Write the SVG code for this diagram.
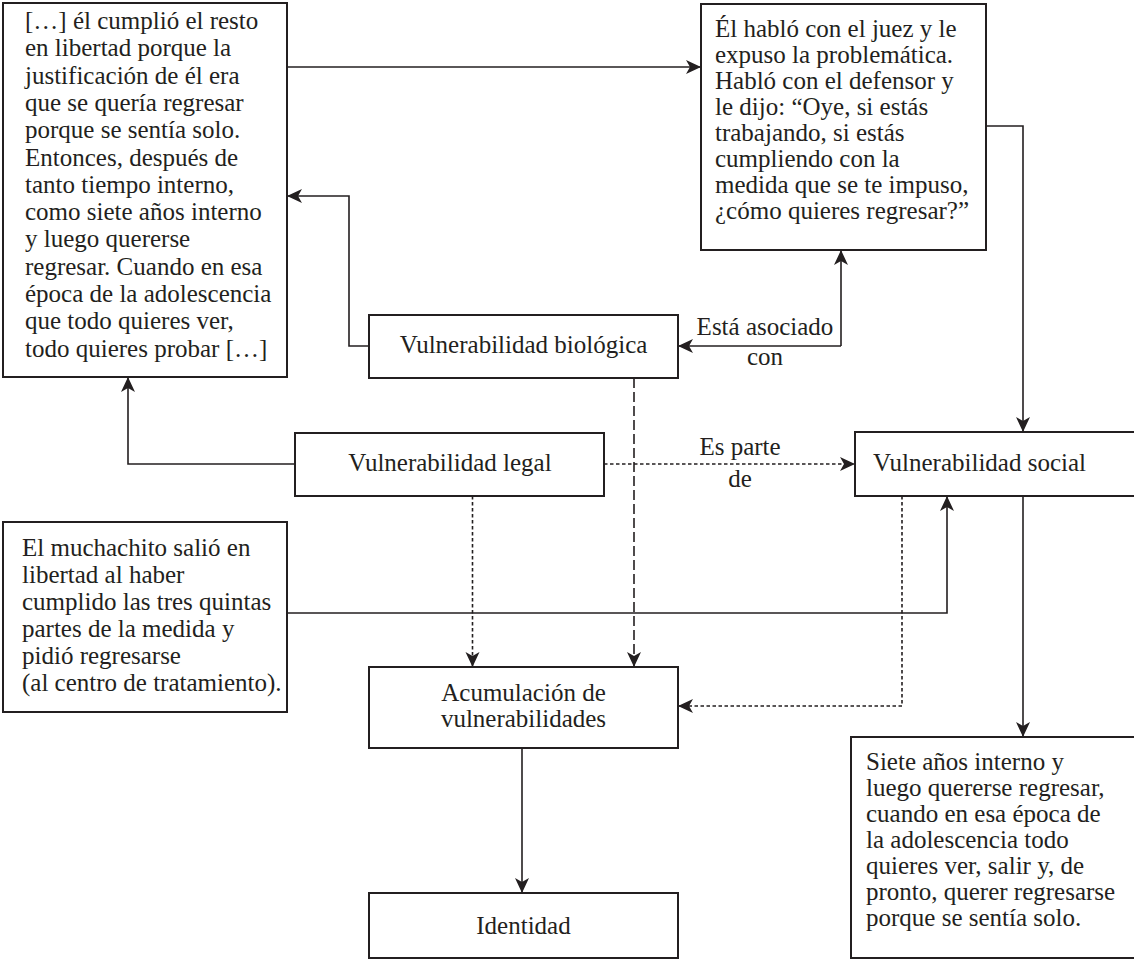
<svg xmlns="http://www.w3.org/2000/svg" width="1134" height="960" viewBox="0 0 1134 960">
  <style>
    .box { fill: #ffffff; stroke: #231f20; stroke-width: 2; }
    .txt { font-family: "Liberation Serif", "Times New Roman", serif; font-size: 25px; fill: #231f20; }
    .mid { text-anchor: middle; }
    .link { fill: none; stroke: #231f20; stroke-width: 1.6; }
    .dot { stroke-dasharray: 3.5 2.5; }
    .dash { stroke-dasharray: 10 4; }
  </style>
  <defs>
    <marker id="arrow" markerUnits="userSpaceOnUse" markerWidth="16" markerHeight="16" refX="15" refY="7" orient="auto">
      <path d="M0,0 L15,7 L0,14 L4,7 z" fill="#231f20"/>
    </marker>
  </defs>

  <rect width="1134" height="960" fill="#ffffff"/>

  <!-- connectors -->
  <g id="connectors">
    <path class="link" d="M287,67 H701" marker-end="url(#arrow)"/>
    <path class="link" d="M369,346 H349 V196 H287" marker-end="url(#arrow)"/>
    <path class="link" d="M841,346 V250" marker-end="url(#arrow)"/>
    <path class="link" d="M841,346 H678" marker-end="url(#arrow)"/>
    <path class="link" d="M986,126 H1023 V432" marker-end="url(#arrow)"/>
    <path class="link" d="M295,464 H128 V377" marker-end="url(#arrow)"/>
    <path class="link dot" d="M604,464 H855" marker-end="url(#arrow)"/>
    <path class="link dot" d="M472.5,496 V667" marker-end="url(#arrow)"/>
    <path class="link dash" d="M634,378 V667" marker-end="url(#arrow)"/>
    <path class="link" d="M287,613 H947 V496" marker-end="url(#arrow)"/>
    <path class="link dot" d="M902,496 V706 H678" marker-end="url(#arrow)"/>
    <path class="link" d="M1023,496 V737" marker-end="url(#arrow)"/>
    <path class="link" d="M522,748 V893" marker-end="url(#arrow)"/>
    <text class="txt mid" x="765" y="335">Está asociado</text>
    <text class="txt mid" x="765" y="365">con</text>
    <text class="txt mid" x="740" y="455">Es parte</text>
    <text class="txt mid" x="740" y="487">de</text>
  </g>

  <!-- quote: remainder served in freedom -->
  <g id="quote-libertad">
    <rect class="box" x="3" y="3" width="284" height="374"/>
    <text class="txt" x="25" y="29">
      <tspan x="25" dy="0">[…] él cumplió el resto</tspan>
      <tspan x="25" dy="27.3">en libertad porque la</tspan>
      <tspan x="25" dy="27.3">justificación de él era</tspan>
      <tspan x="25" dy="27.3">que se quería regresar</tspan>
      <tspan x="25" dy="27.3">porque se sentía solo.</tspan>
      <tspan x="25" dy="27.3">Entonces, después de</tspan>
      <tspan x="25" dy="27.3">tanto tiempo interno,</tspan>
      <tspan x="25" dy="27.3">como siete años interno</tspan>
      <tspan x="25" dy="27.3">y luego quererse</tspan>
      <tspan x="25" dy="27.3">regresar. Cuando en esa</tspan>
      <tspan x="25" dy="27.3">época de la adolescencia</tspan>
      <tspan x="25" dy="27.3">que todo quieres ver,</tspan>
      <tspan x="25" dy="27.3">todo quieres probar […]</tspan>
    </text>
  </g>

  <!-- quote: talk with the judge -->
  <g id="quote-juez">
    <rect class="box" x="701" y="4" width="285" height="246"/>
    <text class="txt" x="715" y="37">
      <tspan x="715" dy="0">Él habló con el juez y le</tspan>
      <tspan x="715" dy="26">expuso la problemática.</tspan>
      <tspan x="715" dy="26">Habló con el defensor y</tspan>
      <tspan x="715" dy="26">le dijo: “Oye, si estás</tspan>
      <tspan x="715" dy="26">trabajando, si estás</tspan>
      <tspan x="715" dy="26">cumpliendo con la</tspan>
      <tspan x="715" dy="26">medida que se te impuso,</tspan>
      <tspan x="715" dy="26">¿cómo quieres regresar?”</tspan>
    </text>
  </g>

  <g id="vuln-biologica">
    <rect class="box" x="369" y="315" width="309" height="63"/>
    <text class="txt mid" x="523.5" y="353">Vulnerabilidad biológica</text>
  </g>

  <g id="vuln-legal">
    <rect class="box" x="295" y="433" width="309" height="63"/>
    <text class="txt mid" x="450" y="471">Vulnerabilidad legal</text>
  </g>

  <g id="vuln-social">
    <rect class="box" x="855" y="432" width="280" height="64"/>
    <text class="txt" x="873" y="471">Vulnerabilidad social</text>
  </g>

  <!-- quote: the boy asked to return -->
  <g id="quote-muchachito">
    <rect class="box" x="3" y="522" width="284" height="190"/>
    <text class="txt" x="22" y="556">
      <tspan x="22" dy="0">El muchachito salió en</tspan>
      <tspan x="22" dy="27">libertad al haber</tspan>
      <tspan x="22" dy="27">cumplido las tres quintas</tspan>
      <tspan x="22" dy="27">partes de la medida y</tspan>
      <tspan x="22" dy="27">pidió regresarse</tspan>
      <tspan x="22" dy="27">(al centro de tratamiento).</tspan>
    </text>
  </g>

  <g id="acumulacion">
    <rect class="box" x="369" y="667" width="309" height="81"/>
    <text class="txt mid" x="523.5" y="701">Acumulación de</text>
    <text class="txt mid" x="523.5" y="727">vulnerabilidades</text>
  </g>

  <g id="identidad">
    <rect class="box" x="369" y="893" width="309" height="65"/>
    <text class="txt mid" x="523.5" y="934">Identidad</text>
  </g>

  <!-- quote: seven years inside -->
  <g id="quote-siete-anos">
    <rect class="box" x="851" y="737" width="284" height="221"/>
    <text class="txt" x="866" y="770">
      <tspan x="866" dy="0">Siete años interno y</tspan>
      <tspan x="866" dy="26">luego quererse regresar,</tspan>
      <tspan x="866" dy="26">cuando en esa época de</tspan>
      <tspan x="866" dy="26">la adolescencia todo</tspan>
      <tspan x="866" dy="26">quieres ver, salir y, de</tspan>
      <tspan x="866" dy="26">pronto, querer regresarse</tspan>
      <tspan x="866" dy="26">porque se sentía solo.</tspan>
    </text>
  </g>
</svg>
